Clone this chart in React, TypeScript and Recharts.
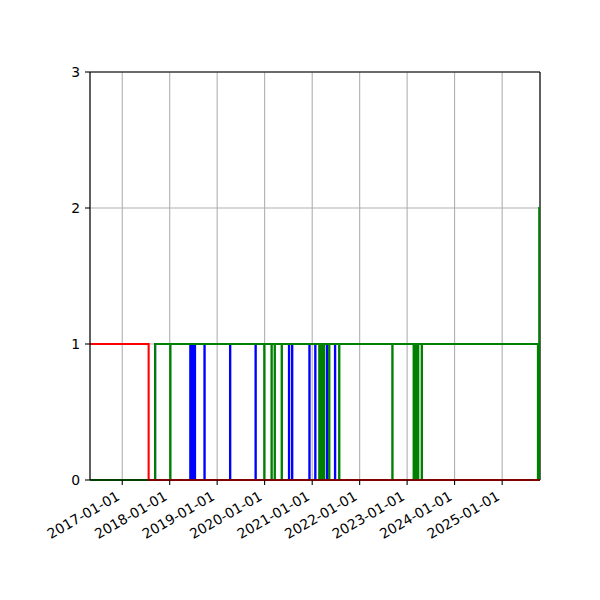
import { LineChart, Line, XAxis, YAxis, CartesianGrid, ReferenceLine } from 'recharts';

type Step = [string, number];

// change points of each series (value holds until the next date)
const redSteps: Step[] = [
  ['2016-04-28', 1],
  ['2017-07-23', 0],
  ['2025-10-19', 0],
];

const blueSteps: Step[] = [
  ['2016-04-28', 0],
  ['2017-09-11', 1],
  ['2018-06-08', 0], ['2018-06-10', 1],
  ['2018-06-20', 0], ['2018-06-22', 1],
  ['2018-07-02', 0], ['2018-07-04', 1],
  ['2018-07-13', 0], ['2018-07-15', 1],
  ['2018-09-25', 0], ['2018-09-27', 1],
  ['2019-04-10', 0], ['2019-04-12', 1],
  ['2019-10-23', 0], ['2019-10-25', 1],
  ['2020-07-06', 0], ['2020-07-08', 1],
  ['2020-07-30', 0], ['2020-08-01', 1],
  ['2020-12-10', 0], ['2020-12-12', 1],
  ['2021-01-24', 0], ['2021-01-26', 1],
  ['2021-04-24', 0], ['2021-04-26', 1],
  ['2021-06-25', 0], ['2021-06-27', 1],
  ['2025-10-19', 1],
];

const greenSteps: Step[] = [
  ['2016-04-28', 0],
  ['2017-09-11', 1],
  ['2018-01-05', 0], ['2018-01-07', 1],
  ['2019-12-29', 0], ['2019-12-31', 1],
  ['2020-02-23', 0], ['2020-02-25', 1],
  ['2020-03-18', 0], ['2020-03-20', 1],
  ['2020-05-11', 0], ['2020-05-13', 1],
  ['2021-02-24', 0], ['2021-02-26', 1],
  ['2021-03-08', 0], ['2021-03-10', 1],
  ['2021-03-20', 0], ['2021-03-22', 1],
  ['2021-04-01', 0], ['2021-04-03', 1],
  ['2021-05-11', 0], ['2021-05-13', 1],
  ['2021-07-27', 0], ['2021-07-29', 1],
  ['2022-09-09', 0], ['2022-09-11', 1],
  ['2023-02-20', 0], ['2023-02-22', 1],
  ['2023-03-02', 0], ['2023-03-04', 1],
  ['2023-03-14', 0], ['2023-03-16', 1],
  ['2023-03-26', 0], ['2023-03-28', 1],
  ['2023-04-23', 0], ['2023-04-25', 1],
  ['2025-10-03', 0],
  ['2025-10-13', 2],
  ['2025-10-19', 2],
];

const xTickLabels = [
  '2017-01-01', '2018-01-01', '2019-01-01', '2020-01-01', '2021-01-01',
  '2022-01-01', '2023-01-01', '2024-01-01', '2025-01-01',
];
const yTicks = [0, 1, 2, 3];

const toTime = (s: string) => Date.parse(s + 'T00:00:00Z');
const toRows = (steps: Step[]) => steps.map(([d, v]) => ({ t: toTime(d), v }));

const xStart = toTime('2016-04-28');
const xEnd = toTime('2025-10-19');
const xTicks = xTickLabels.map(toTime);

const fmt = (t: number) => new Date(t).toISOString().slice(0, 10);

const font = '"DejaVu Sans", sans-serif';

const DateTick = ({ x, y, payload }: any) => {
  const ax = x - 1.5;
  const ay = y + 14;
  return (
    <text
      x={ax}
      y={ay}
      transform={`rotate(-30, ${ax}, ${ay})`}
      textAnchor="end"
      fontFamily={font}
      fontSize={13.9}
      fill="#000"
    >
      {fmt(payload.value)}
    </text>
  );
};

const App = () => (
  <div style={{ position: 'absolute', top: 0, left: 0, width: 600, height: 600, background: '#fff' }}>
    <LineChart width={600} height={600} margin={{ top: 72, right: 60, bottom: 60, left: 0 }}>
      <CartesianGrid stroke="#b0b0b0" strokeWidth={1.1} />
      <XAxis
        dataKey="t"
        type="number"
        domain={[xStart, xEnd]}
        allowDataOverflow
        ticks={xTicks}
        tick={<DateTick />}
        tickSize={5}
        tickMargin={0}
        height={60}
        interval={0}
        axisLine={{ stroke: '#000', strokeWidth: 1.1 }}
        tickLine={{ stroke: '#000', strokeWidth: 1.1 }}
      />
      <YAxis
        type="number"
        domain={[0, 3]}
        ticks={yTicks}
        width={90}
        tickSize={5}
        tickMargin={5}
        interval={0}
        tick={{ fill: '#000', fontSize: 13.9, fontFamily: font }}
        axisLine={{ stroke: '#000', strokeWidth: 1.1 }}
        tickLine={{ stroke: '#000', strokeWidth: 1.1 }}
      />
      <ReferenceLine y={3} stroke="#000" strokeWidth={1.1} />
      <ReferenceLine x={xEnd} stroke="#000" strokeWidth={1.1} />
      <Line
        data={toRows(blueSteps)}
        dataKey="v"
        type="stepAfter"
        stroke="#0000ff"
        strokeWidth={2.1}
        dot={false}
        activeDot={false}
        isAnimationActive={false}
      />
      <Line
        data={toRows(greenSteps)}
        dataKey="v"
        type="stepAfter"
        stroke="#008000"
        strokeWidth={2.1}
        dot={false}
        activeDot={false}
        isAnimationActive={false}
      />
      <Line
        data={toRows(redSteps)}
        dataKey="v"
        type="stepAfter"
        stroke="#ff0000"
        strokeWidth={2.1}
        dot={false}
        activeDot={false}
        isAnimationActive={false}
      />
    </LineChart>
  </div>
);

export default App;
